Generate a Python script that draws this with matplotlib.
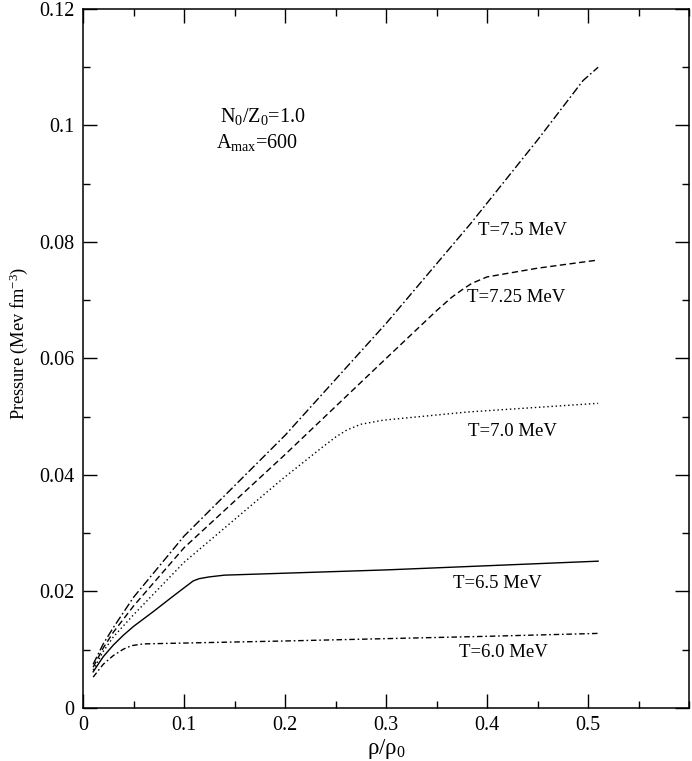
import numpy as np
import matplotlib
matplotlib.use('Agg')
import matplotlib.pyplot as plt
from matplotlib.ticker import MultipleLocator, FuncFormatter

plt.rcParams['font.family'] = ['Liberation Serif', 'DejaVu Serif']
plt.rcParams['mathtext.fontset'] = 'custom'
plt.rcParams['mathtext.rm'] = 'Liberation Serif'
plt.rcParams['mathtext.it'] = 'Liberation Serif:italic'
plt.rcParams['mathtext.default'] = 'regular'

# curvas: (rho/rho0, presion)
rho_75 = [0.01, 0.02, 0.03, 0.05, 0.1, 0.2, 0.3, 0.3835, 0.45, 0.495, 0.51]
p_75 = [0.0075, 0.0110, 0.0138, 0.0190, 0.0295, 0.0468, 0.0660, 0.0831, 0.0975, 0.1077, 0.1100]

rho_725 = [0.01, 0.02, 0.03, 0.05, 0.1, 0.2, 0.3, 0.35, 0.365, 0.377, 0.385, 0.40, 0.45, 0.51]
p_725 = [0.0070, 0.0103, 0.0130, 0.0175, 0.0275, 0.0435, 0.0600, 0.0682, 0.0705, 0.0720, 0.0729, 0.0740, 0.0755, 0.0769]

rho_70 = [0.01, 0.02, 0.03, 0.05, 0.1, 0.198, 0.235, 0.25, 0.261, 0.275, 0.297, 0.38, 0.51]
p_70 = [0.0065, 0.0097, 0.0122, 0.0160, 0.0250, 0.0394, 0.0445, 0.0465, 0.0477, 0.0487, 0.0494, 0.0508, 0.0523]

rho_65 = [0.01, 0.02, 0.03, 0.04, 0.05, 0.07, 0.09, 0.109, 0.115, 0.125, 0.14, 0.3, 0.51]
p_65 = [0.0062, 0.0088, 0.0108, 0.0125, 0.0140, 0.0166, 0.0193, 0.0218, 0.0222, 0.0225, 0.0228, 0.0237, 0.0252]

rho_60 = [0.01, 0.02, 0.03, 0.04, 0.048, 0.06, 0.2, 0.4, 0.51]
p_60 = [0.0053, 0.0075, 0.0090, 0.0101, 0.0107, 0.0110, 0.0115, 0.0123, 0.0128]

fig = plt.figure(figsize=(6.92, 7.61), dpi=100)
ax = fig.add_axes([0.12, 0.0697, 0.8757, 0.9185])

ax.plot(rho_75, p_75, color='black', lw=1.0, dashes=(6, 2, 1.2, 2))
ax.plot(rho_725, p_725, color='black', lw=1.0, dashes=(4.5, 2.5))
ax.plot(rho_70, p_70, color='black', lw=1.0, dashes=(1, 2))
ax.plot(rho_65, p_65, color='black', lw=1.0)
ax.plot(rho_60, p_60, color='black', lw=1.0, dashes=(4, 2, 1.2, 2))

# etiquetas de temperatura
fs_t = 13.5
ax.text(0.435, 0.082, 'T=7.5 MeV', fontsize=fs_t, ha='center', va='center')
ax.text(0.429, 0.0705, 'T=7.25 MeV', fontsize=fs_t, ha='center', va='center')
ax.text(0.425, 0.0475, 'T=7.0 MeV', fontsize=fs_t, ha='center', va='center')
ax.text(0.410, 0.0214, 'T=6.5 MeV', fontsize=fs_t, ha='center', va='center')
ax.text(0.416, 0.0096, 'T=6.0 MeV', fontsize=fs_t, ha='center', va='center')

ax.text(0.136, 0.1015, 'N$_0$/Z$_0$=1.0', fontsize=14.5, ha='left', va='center')
ax.text(0.132, 0.0970, 'A$_{max}$=600', fontsize=14.5, ha='left', va='center')

ax.set_xlim(0, 0.6)
ax.set_ylim(0, 0.12)
ax.set_xticks([0, 0.1, 0.2, 0.3, 0.4, 0.5])
ax.set_yticks([0, 0.02, 0.04, 0.06, 0.08, 0.1, 0.12])
ax.xaxis.set_minor_locator(MultipleLocator(0.05))
ax.yaxis.set_minor_locator(MultipleLocator(0.01))
fmt = FuncFormatter(lambda v, pos: '%g' % round(v, 4))
ax.xaxis.set_major_formatter(fmt)
ax.yaxis.set_major_formatter(fmt)

ax.tick_params(which='both', direction='in', top=True, right=True, width=1.0)
ax.tick_params(which='major', length=10, labelsize=14.5, pad=6)
ax.tick_params(which='minor', length=5)
for s in ax.spines.values():
    s.set_linewidth(1.1)

ax.set_xlabel('ρ/ρ$_0$', fontsize=16.5, labelpad=1)
ax.set_ylabel('Pressure (Mev fm$^{-3}$)', fontsize=13.2)
ax.yaxis.set_label_coords(-0.088, 0.521)

fig.savefig('out.png', dpi=100)
